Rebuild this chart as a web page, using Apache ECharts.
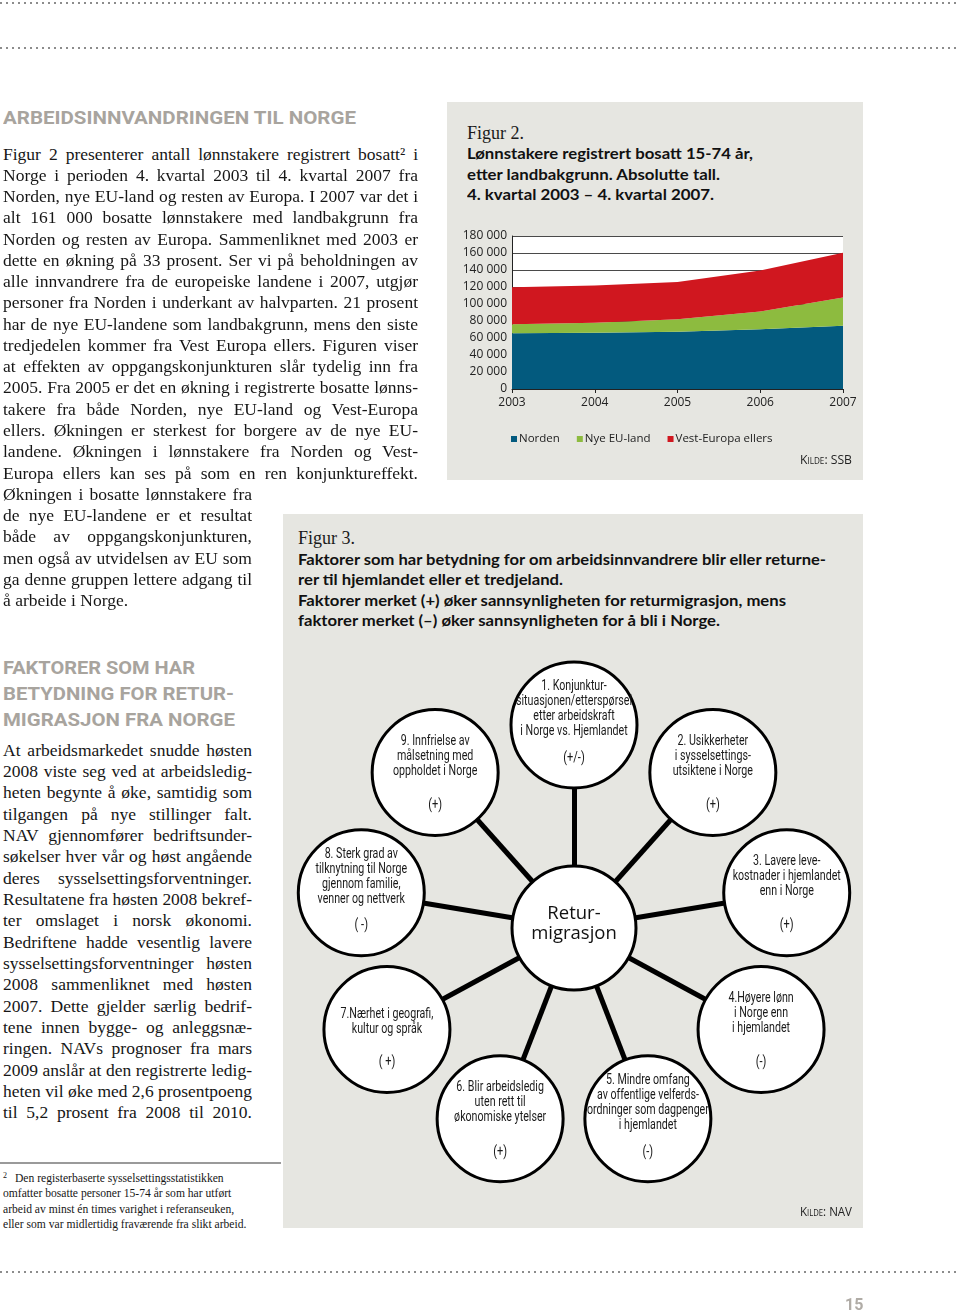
<!DOCTYPE html>
<html lang="no"><head><meta charset="utf-8">
<title>Arbeidsinnvandringen til Norge</title>
<script src="https://cdn.jsdelivr.net/npm/echarts/dist/echarts.min.js"></script>
<style>
html,body{margin:0;padding:0;background:#fff;}
#page{position:relative;width:960px;height:1314px;overflow:hidden;background:#fff;}
.dots{position:absolute;left:0;width:960px;height:2px;background:repeating-linear-gradient(to right,#8c8c8c 0 2px,transparent 2px 6px);}
.ln{position:absolute;white-space:nowrap;font-family:'Liberation Serif','Times New Roman',serif;color:#161616;font-size:17.5px;line-height:21px;transform-origin:0 0;}
.fn{position:absolute;white-space:nowrap;font-family:'Liberation Serif','Times New Roman',serif;color:#161616;font-size:11.6px;line-height:15px;}
.hd{position:absolute;white-space:nowrap;font-family:Roboto,'DejaVu Sans',sans-serif;font-weight:700;color:#a8a49e;font-size:19px;line-height:26px;transform-origin:0 0;}
.panel{position:absolute;background:#e6e6e1;}
.fig{position:absolute;white-space:nowrap;font-family:'Liberation Serif','Times New Roman',serif;font-size:18px;line-height:22px;color:#1a1a1a;}
.ft{position:absolute;white-space:nowrap;font-family:Lato,'Open Sans',sans-serif;font-weight:700;font-size:15px;line-height:20px;color:#111;transform-origin:0 0;}
.kilde{position:absolute;font-family:'Open Sans',sans-serif;font-variant:small-caps;font-size:13.5px;line-height:16px;color:#222;white-space:nowrap;transform-origin:0 0;}
.pn{position:absolute;font-family:Roboto,'DejaVu Sans',sans-serif;font-weight:700;font-size:16px;color:#b0aca6;}
#fig2,#fig3{position:absolute;}
</style>
</head>
<body>
<div id="page">
  <div class="dots" style="top:2px"></div>
  <div class="dots" style="top:47px"></div>
  <div class="dots" style="top:1271px"></div>

  <div class="hd" style="left:3px;top:105px" data-w="353">ARBEIDSINNVANDRINGEN TIL NORGE</div>
  <div class="hd" style="left:3px;top:655px" data-w="192">FAKTORER SOM HAR</div>
  <div class="hd" style="left:3px;top:681px" data-w="231">BETYDNING FOR RETUR-</div>
  <div class="hd" style="left:3px;top:707px" data-w="232">MIGRASJON FRA NORGE</div>

  <div style="position:absolute;left:0;top:1162px;width:281px;height:2px;background:#9a9a9a"></div>

  <div class="panel" style="left:447px;top:102px;width:416px;height:378px"></div>
  <div class="panel" style="left:283px;top:514px;width:580px;height:714px"></div>

  <div class="fig" style="left:467px;top:122px">Figur 2.</div>
  <div class="ft" style="left:467px;top:143px" data-w="286">Lønnstakere registrert bosatt 15-74 år,</div>
  <div class="ft" style="left:467px;top:164px" data-w="253">etter landbakgrunn. Absolutte tall.</div>
  <div class="ft" style="left:467px;top:184px" data-w="247">4. kvartal 2003 – 4. kvartal 2007.</div>

  <div id="fig2" style="left:447px;top:102px;width:416px;height:378px"></div>
  <div class="kilde" style="left:800px;top:451px" data-w="52">Kilde: SSB</div>

  <div class="fig" style="left:298px;top:527px">Figur 3.</div>
  <div class="ft" style="left:298px;top:549px" data-w="528">Faktorer som har betydning for om arbeidsinnvandrere blir eller returne-</div>
  <div class="ft" style="left:298px;top:569px" data-w="265">rer til hjemlandet eller et tredjeland.</div>
  <div class="ft" style="left:298px;top:590px" data-w="488">Faktorer merket (+) øker sannsynligheten for returmigrasjon, mens</div>
  <div class="ft" style="left:298px;top:610px" data-w="422">faktorer merket (–) øker sannsynligheten for å bli i Norge.</div>

  <div id="fig3" style="left:283px;top:514px;width:580px;height:714px"></div>
  <div class="kilde" style="left:800px;top:1203px" data-w="52">Kilde: NAV</div>

  <div class="pn" style="left:845px;top:1295px">15</div>
</div>

<script>
// ---------- Figur 2 data ----------
const years = ['2003', '2004', '2005', '2006', '2007'];
const seriesNames = ['Norden', 'Nye EU-land', 'Vest-Europa ellers'];
const norden = [65700, 66100, 67300, 70400, 74300];
const nyeEU = [10600, 11700, 14900, 20700, 33300];
const vestEuropa = [43400, 43900, 43800, 48200, 52800];
const yMax = 180000;
const yStep = 20000;

// ---------- Figur 3 data ----------
const centerLabel = 'Retur-\nmigrasjon';
const factorTexts = [
  '1. Konjunktur-\nsituasjonen/etterspørsel\netter arbeidskraft\ni Norge vs. Hjemlandet',
  '2. Usikkerheter\ni sysselsettings-\nutsiktene i Norge',
  '3. Lavere leve-\nkostnader i hjemlandet\nenn i Norge',
  '4.Høyere lønn\ni Norge enn\ni hjemlandet',
  '5. Mindre omfang\nav offentlige velferds-\nordninger som dagpenger\ni hjemlandet',
  '6. Blir arbeidsledig\nuten rett til\nøkonomiske ytelser',
  '7.Nærhet i geografi,\nkultur og språk',
  '8. Sterk grad av\ntilknytning til Norge\ngjennom familie,\nvenner og nettverk',
  '9. Innfrielse av\nmålsetning med\noppholdet i Norge'
];
const factorSigns = ['(+/-)', '(+)', '(+)', '(-)', '(-)', '(+)', '( +)', '( -)', '(+)'];

// ---------- Body text ----------
const para1 = [
  'Figur 2 presenterer antall lønnstakere registrert bosatt² i',
  'Norge i perioden 4. kvartal 2003 til 4. kvartal 2007 fra',
  'Norden, nye EU-land og resten av Europa. I 2007 var det i',
  'alt 161 000 bosatte lønnstakere med landbakgrunn fra',
  'Norden og resten av Europa. Sammenliknet med 2003 er',
  'dette en økning på 33 prosent. Ser vi på beholdningen av',
  'alle innvandrere fra de europeiske landene i 2007, utgjør',
  'personer fra Norden i underkant av halvparten. 21 prosent',
  'har de nye EU-landene som landbakgrunn, mens den siste',
  'tredjedelen kommer fra Vest Europa ellers. Figuren viser',
  'at effekten av oppgangskonjunkturen slår tydelig inn fra',
  '2005. Fra 2005 er det en økning i registrerte bosatte lønns-',
  'takere fra både Norden, nye EU-land og Vest-Europa',
  'ellers. Økningen er sterkest for borgere av de nye EU-',
  'landene. Økningen i lønnstakere fra Norden og Vest-',
  'Europa ellers kan ses på som en ren konjunktureffekt.'
];
const para1b = [
  'Økningen i bosatte lønnstakere fra',
  'de nye EU-landene er et resultat',
  'både av oppgangskonjunkturen,',
  'men også av utvidelsen av EU som',
  'ga denne gruppen lettere adgang til',
  'å arbeide i Norge.'
];
const para2 = [
  'At arbeidsmarkedet snudde høsten',
  '2008 viste seg ved at arbeidsledig-',
  'heten begynte å øke, samtidig som',
  'tilgangen på nye stillinger falt.',
  'NAV gjennomfører bedriftsunder-',
  'søkelser hver vår og høst angående',
  'deres sysselsettingsforventninger.',
  'Resultatene fra høsten 2008 bekref-',
  'ter omslaget i norsk økonomi.',
  'Bedriftene hadde vesentlig lavere',
  'sysselsettingsforventninger høsten',
  '2008 sammenliknet med høsten',
  '2007. Dette gjelder særlig bedrif-',
  'tene innen bygge- og anleggsnæ-',
  'ringen. NAVs prognoser fra mars',
  '2009 anslår at den registrerte ledig-',
  'heten vil øke med 2,6 prosentpoeng',
  'til 5,2 prosent fra 2008 til 2010.'
];
const footnote = [
  'Den registerbaserte sysselsettingsstatistikken',
  'omfatter bosatte personer 15-74 år som har utført',
  'arbeid av minst én times varighet i referanseuken,',
  'eller som var midlertidig fraværende fra slikt arbeid.'
];

const page = document.getElementById('page');

function addLine(text, x, yc, w, justify) {
  const d = document.createElement('div');
  d.className = 'ln';
  d.style.left = x + 'px';
  d.style.top = (yc - 11.5) + 'px';
  const s = document.createElement('span');
  s.textContent = text;
  d.appendChild(s);
  page.appendChild(d);
  const nat = s.getBoundingClientRect().width;
  if (nat > w) {
    d.style.transform = 'scaleX(' + (w / nat) + ')';
  } else if (justify) {
    d.style.width = w + 'px';
    d.style.textAlign = 'justify';
    d.style.textAlignLast = 'justify';
  }
}

function build() {
  const step1 = 21.27;
  para1.forEach((t, i) => addLine(t, 3, 155 + i * step1, 415, true));
  para1b.forEach((t, i) => addLine(t, 3, 155 + (16 + i) * step1, 249, i < para1b.length - 1));
  const step2 = 21.35;
  para2.forEach((t, i) => addLine(t, 3, 751 + i * step2, 249, true));

  const fy = [1179, 1194, 1210, 1225];
  footnote.forEach((t, i) => {
    const d = document.createElement('div');
    d.className = 'fn';
    d.style.left = (i === 0 ? 15 : 3) + 'px';
    d.style.top = (fy[i] - 8) + 'px';
    d.textContent = t;
    page.appendChild(d);
  });
  const sup = document.createElement('div');
  sup.className = 'fn';
  sup.style.left = '3px';
  sup.style.top = (fy[0] - 11) + 'px';
  sup.style.fontSize = '8px';
  sup.textContent = '2';
  page.appendChild(sup);

  document.querySelectorAll('[data-w]').forEach(el => {
    const w = +el.dataset.w;
    const nat = el.getBoundingClientRect().width;
    if (nat > 0) el.style.transform = 'scaleX(' + (w / nat) + ')';
  });
}

// ---------- Figur 2 chart ----------
const C_NORDEN = '#035a7e', C_EU = '#8dbb3f', C_VEST = '#d0171f';
function fmtThousands(v) { return String(v).replace(/\B(?=(\d{3})+(?!\d))/g, ' '); }

function drawFig2() {
  const chart = echarts.init(document.getElementById('fig2'));
  const vals = [norden, nyeEU, vestEuropa];
  const cols = [C_NORDEN, C_EU, C_VEST];
  chart.setOption({
    animation: false,
    color: cols,
    grid: { left: 65, right: 20, top: 134, bottom: 91, show: true, backgroundColor: '#ffffff', borderWidth: 0 },
    legend: {
      left: 59, top: 326, icon: 'rect', itemWidth: 6, itemHeight: 6, itemGap: 17,
      textStyle: { fontFamily: 'Open Sans', fontSize: 11.5, color: '#222', padding: [0, 0, 0, -3] },
      data: seriesNames
    },
    xAxis: {
      type: 'category', data: years, boundaryGap: false,
      axisLine: { lineStyle: { color: '#222', width: 1 } },
      axisTick: { show: true, length: 4, lineStyle: { color: '#222' } },
      axisLabel: { margin: 8, fontFamily: 'Open Sans', fontSize: 12, color: '#222' }
    },
    yAxis: {
      type: 'value', min: 0, max: yMax, interval: yStep,
      axisLine: { show: true, lineStyle: { color: '#222' } },
      axisTick: { show: false },
      splitLine: { lineStyle: { color: '#4a4a4a', width: 1 } },
      axisLabel: { margin: 5, fontFamily: 'Open Sans', fontSize: 12, color: '#222', formatter: fmtThousands }
    },
    series: seriesNames.map((n, i) => ({
      name: n, type: 'line', stack: 'total', data: vals[i],
      symbol: 'none', lineStyle: { width: 0 },
      itemStyle: { color: cols[i] },
      areaStyle: { color: cols[i], opacity: 1 }
    }))
  });
}

// ---------- Figur 3 diagram ----------
function drawFig3() {
  const chart = echarts.init(document.getElementById('fig3'));
  const W = 580, H = 714;
  const cx = 291, cy = 414, rx = 216, ry = 203;
  const nodeFontFamily = 'Roboto';
  const nodeFontSize = 14.5;
  // horizontal condensing so that the widest line fits like the reference's condensed face
  const ctx = document.createElement('canvas').getContext('2d');
  ctx.font = nodeFontSize + 'px ' + nodeFontFamily;
  const condense = 122 / ctx.measureText('ordninger som dagpenger').width;

  const nodes = [{
    name: 'center', value: [cx, cy], symbolSize: 124,
    label: { show: true, formatter: centerLabel, fontFamily: "'Open Sans',sans-serif", fontSize: 18.5, lineHeight: 20, offset: [0, -4], color: '#111' }
  }];
  const positions = [];
  factorTexts.forEach((t, i) => {
    const a = (-90 + 40 * i) * Math.PI / 180;
    const pos = [cx + rx * Math.cos(a), cy + ry * Math.sin(a)];
    positions.push(pos);
    nodes.push({ name: 'f' + (i + 1), value: pos, symbolSize: 126, label: { show: false } });
  });
  const links = factorTexts.map((_, i) => ({ source: 0, target: i + 1 }));
  chart.setOption({
    animation: false,
    grid: { left: 0, right: 0, top: 0, bottom: 0 },
    xAxis: { type: 'value', min: 0, max: W, show: false },
    yAxis: { type: 'value', min: 0, max: H, inverse: true, show: false },
    series: [{
      type: 'graph', coordinateSystem: 'cartesian2d', layout: 'none', silent: true,
      symbol: 'circle',
      data: nodes, links: links,
      itemStyle: { color: '#ffffff', borderColor: '#000000', borderWidth: 3 },
      lineStyle: { color: '#000000', width: 5, opacity: 1, curveness: 0 },
      label: { position: 'inside', color: '#1a1a1a' },
      z: 2
    }]
  });
  const graphics = [];
  factorTexts.forEach((t, i) => {
    const p = chart.convertToPixel({ gridIndex: 0 }, positions[i]);
    const nLines = t.split('\n').length;
    graphics.push({
      type: 'text', x: p[0], y: p[1] + (nLines === 2 ? -8 : -16), scaleX: condense, z: 10, silent: true,
      style: { text: t, fill: '#1a1a1a', fontFamily: nodeFontFamily, fontSize: nodeFontSize, lineHeight: 15, align: 'center', verticalAlign: 'middle' }
    });
    graphics.push({
      type: 'text', x: p[0], y: p[1] + 33, scaleX: condense, z: 10, silent: true,
      style: { text: factorSigns[i], fill: '#1a1a1a', fontFamily: nodeFontFamily, fontSize: 15, align: 'center', verticalAlign: 'middle' }
    });
  });
  chart.setOption({ graphic: graphics });
}

function start() { build(); drawFig2(); drawFig3(); }
if (document.fonts && document.fonts.ready) { document.fonts.ready.then(start); } else { start(); }
</script>
</body>
</html>
